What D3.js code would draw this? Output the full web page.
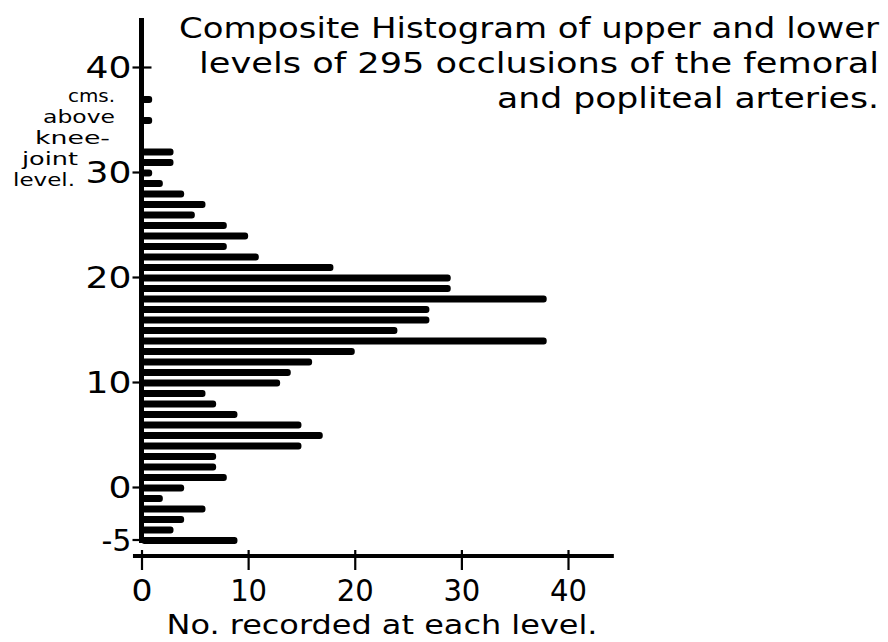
<!DOCTYPE html>
<html>
<head>
<meta charset="utf-8">
<script src="https://cdn.jsdelivr.net/npm/d3@7"></script>
<style>
  body { margin: 0; background: #fff; }
  text { font-family: "DejaVu Sans", sans-serif; fill: #000; }
</style>
</head>
<body>
<svg id="chart" width="888" height="642"></svg>
<script>
// cm above knee-joint level, and number recorded at each level
const levels = [37, 35, 32, 31, 30, 29, 28, 27, 26, 25, 24, 23, 22, 21, 20, 19, 18, 17, 16, 15,
    14, 13, 12, 11, 10, 9, 8, 7, 6, 5, 4, 3, 2, 1, 0, -1, -2, -3, -4, -5];
const counts = [1, 1, 3, 3, 1, 2, 4, 6, 5, 8, 10, 8, 11, 18, 29, 29, 38, 27, 27, 24,
    38, 20, 16, 14, 13, 6, 7, 9, 15, 17, 15, 7, 7, 8, 4, 2, 6, 4, 3, 9];

const yTicks = [40, 30, 20, 10, 0, -5];
const xTicks = [0, 10, 20, 30, 40];

const titleLines = ["Composite Histogram of upper and lower",
    "levels of 295 occlusions of the femoral",
    "and popliteal arteries."];
const yLabelLines = ["cms.", "above", "knee-", "joint", "level."];
const xLabel = "No. recorded at each level.";

const data = levels.map((lv, i) => ({level: lv, count: counts[i]}));

const svg = d3.select("#chart");

const x = d3.scaleLinear().domain([0, 40]).range([141.5, 568]);
const y = d3.scaleLinear().domain([0, 40]).range([487, 67]);

const barH = 7;

// bars
svg.append("g")
    .selectAll("rect")
    .data(data)
    .join("rect")
    .attr("x", x(0))
    .attr("y", d => y(d.level) + 1 - barH / 2)
    .attr("width", d => x(d.count) - x(0))
    .attr("height", barH)
    .attr("rx", 3)
    .attr("fill", "#000");

// vertical axis line
svg.append("line")
    .attr("x1", x(0)).attr("x2", x(0))
    .attr("y1", 18).attr("y2", 543)
    .attr("stroke", "#000")
    .attr("stroke-width", 5);

// horizontal axis line
svg.append("line")
    .attr("x1", x(-0.8)).attr("x2", x(44.3))
    .attr("y1", 556).attr("y2", 556)
    .attr("stroke", "#000")
    .attr("stroke-width", 4);

// y axis ticks + labels
const yAxis = svg.append("g")
    .attr("transform", `translate(${x(0)},0)`)
    .call(d3.axisLeft(y).tickValues(yTicks).tickSize(9).tickPadding(1).tickFormat(d => String(d)));
yAxis.select(".domain").remove();
yAxis.selectAll(".tick line")
    .attr("x1", 10)
    .attr("stroke", "#000")
    .attr("stroke-width", 2.2);
yAxis.selectAll(".tick text")
    .attr("font-size", 30)
    .attr("font-family", "DejaVu Sans")
    .attr("dy", "0.36em")
    .attr("textLength", d => d === 0 ? 23 : d === -5 ? 30 : 46)
    .attr("lengthAdjust", "spacingAndGlyphs");

// x axis ticks + labels
const xAxis = svg.append("g")
    .attr("transform", "translate(0,550)")
    .call(d3.axisBottom(x).tickValues(xTicks).tickSize(20).tickPadding(10));
xAxis.select(".domain").remove();
xAxis.selectAll(".tick line")
    .attr("stroke", "#000")
    .attr("stroke-width", 2.2);
xAxis.selectAll(".tick text")
    .attr("font-size", 30)
    .attr("font-family", "DejaVu Sans")
    .attr("textLength", d => d === 0 ? 21 : 37)
    .attr("lengthAdjust", "spacingAndGlyphs");

// title
const titleWidths = [700, 680, 382];
svg.append("g")
    .selectAll("text")
    .data(titleLines)
    .join("text")
    .attr("x", 879)
    .attr("y", (d, i) => 38 + i * 35)
    .attr("text-anchor", "end")
    .attr("font-size", 28)
    .attr("textLength", (d, i) => titleWidths[i])
    .attr("lengthAdjust", "spacingAndGlyphs")
    .text(d => d);

// y axis label, stacked
const yLabRight = [115, 115, 110, 78, 75];
const yLabWidth = [47, 72, 75, 56, 62];
svg.append("g")
    .selectAll("text")
    .data(yLabelLines)
    .join("text")
    .attr("x", (d, i) => yLabRight[i])
    .attr("y", (d, i) => 102 + i * 21)
    .attr("text-anchor", "end")
    .attr("font-size", 18)
    .attr("textLength", (d, i) => yLabWidth[i])
    .attr("lengthAdjust", "spacingAndGlyphs")
    .text(d => d);

// x axis label
svg.append("text")
    .attr("x", 382)
    .attr("y", 634)
    .attr("text-anchor", "middle")
    .attr("font-size", 26)
    .attr("textLength", 431)
    .attr("lengthAdjust", "spacingAndGlyphs")
    .text(xLabel);
</script>
</body>
</html>
